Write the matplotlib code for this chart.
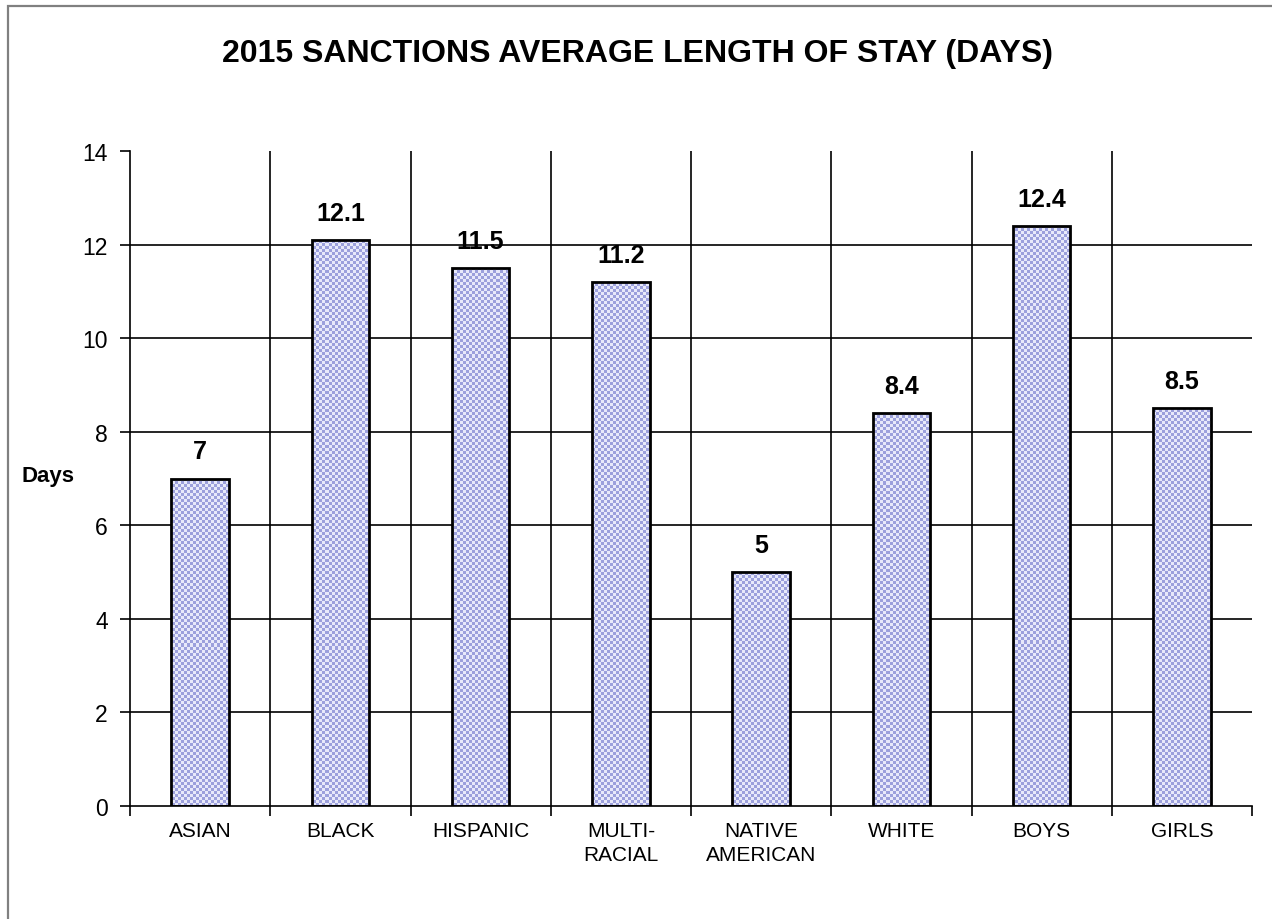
import numpy as np
import matplotlib
matplotlib.use("Agg")
import matplotlib.pyplot as plt
from matplotlib.patches import Rectangle
from matplotlib.ticker import FixedLocator

categories = ["ASIAN", "BLACK", "HISPANIC", "MULTI-\nRACIAL", "NATIVE\nAMERICAN", "WHITE", "BOYS", "GIRLS"]
values = [7, 12.1, 11.5, 11.2, 5, 8.4, 12.4, 8.5]
value_labels = ["7", "12.1", "11.5", "11.2", "5", "8.4", "12.4", "8.5"]
yticks = [0, 2, 4, 6, 8, 10, 12, 14]
title = "2015 SANCTIONS AVERAGE LENGTH OF STAY (DAYS)"

plt.rcParams['font.family'] = ['Liberation Sans', 'DejaVu Sans']

W, H = 1272, 920
fig = plt.figure(figsize=(W / 100, H / 100), dpi=100)
fig.patch.set_facecolor("white")

# outer frame
fig.patches.append(Rectangle((8 / W, -0.1), 1.2, (H - 7) / H + 0.1, transform=fig.transFigure,
                             fill=False, edgecolor="#808080", linewidth=1.6))

ax = fig.add_axes([130 / W, 1 - 807 / H, (1252 - 130) / W, (807 - 152) / H])
n = len(categories)
x = np.arange(n)
ax.set_xlim(-0.5, n - 0.5)
ax.set_ylim(0, 14)

# gridlines
for yv in yticks[1:-1]:
    ax.axhline(yv, color="black", linewidth=1.2, zorder=1)
for b in np.arange(0.5, n - 1, 1.0):
    ax.axvline(b, color="black", linewidth=1.2, zorder=1)

bars = ax.bar(x, values, width=0.41, facecolor="none", edgecolor="black", linewidth=2.0, zorder=3)

# checkered fill
cell = 3
nx = int((1252 - 130) / cell)
ny = int((807 - 152) / cell)
yy, xx = np.mgrid[0:ny, 0:nx]
checker = ((xx + yy) % 2).astype(float)
c1 = np.array([156, 160, 220]) / 255.0
c2 = np.array([232, 233, 250]) / 255.0
img = np.where(checker[..., None] == 1, c1, c2)
for bar in bars:
    im = ax.imshow(img, extent=[0, 1, 0, 1], transform=ax.transAxes, interpolation="nearest",
                   aspect="auto", zorder=2)
    im.set_clip_path(bar)

for xi, v, lab in zip(x, values, value_labels):
    ax.annotate(lab, (xi, v), xytext=(0, 11), textcoords="offset points", ha="center", va="bottom",
                fontsize=18, fontweight="bold")

for s in ["top", "right"]:
    ax.spines[s].set_visible(False)
ax.spines["left"].set_linewidth(1.2)
ax.spines["bottom"].set_linewidth(1.2)

ax.set_yticks(yticks)
ax.set_yticklabels([str(t) for t in yticks], fontsize=16.5)
ax.tick_params(axis="y", length=7, width=1.2, direction="out", pad=9)

ax.xaxis.set_major_locator(FixedLocator(np.arange(-0.5, n, 1.0)))
ax.xaxis.set_major_formatter(plt.NullFormatter())
ax.xaxis.set_minor_locator(FixedLocator(x))
ax.set_xticklabels(categories, minor=True, fontsize=15, linespacing=1.3)
ax.tick_params(axis="x", which="minor", length=0, pad=11)
ax.tick_params(axis="x", which="major", length=7, width=1.2, direction="out")

fig.text(48 / W, 1 - 477 / H, "Days", ha="center", va="center", fontsize=16, fontweight="bold")
fig.text(637 / W, 1 - 54 / H, title, ha="center", va="center", fontsize=23, fontweight="bold")

fig.savefig("out.png", dpi=100)
